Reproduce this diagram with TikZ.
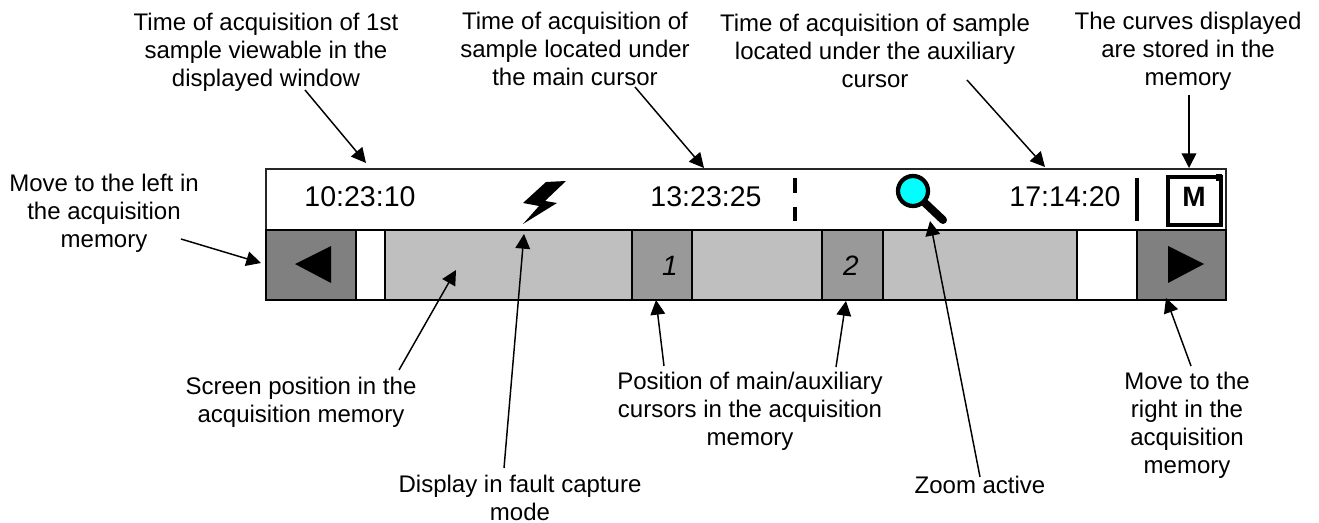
\documentclass[tikz,border=0pt]{standalone}
\usepackage{fontspec}
\setmainfont{Liberation Sans}
\usetikzlibrary{arrows.meta}
\definecolor{btn}{gray}{0.5}
\definecolor{cur}{gray}{0.6}
\definecolor{bar}{gray}{0.75}
\definecolor{lens}{rgb}{0,1,1}
\tikzset{
 x=0.75pt,y=-0.75pt,
 lab/.style={align=center,font=\fontsize{18pt}{21pt}\selectfont,inner sep=0pt},
 big/.style={font=\fontsize{21.4pt}{24pt}\selectfont,inner sep=0pt},
 num/.style={font=\fontsize{21pt}{24pt}\itshape\selectfont,inner sep=0pt},
 seg/.style={draw=black,line width=1.5pt,inner sep=0pt,outer sep=0pt,minimum height=52.5pt,anchor=north west},
 arr/.style={draw=black,line width=1.1pt,-{Triangle[length=11pt,width=11pt]}},
 tri/.style={fill=black,draw=none},
}
\begin{document}
\begin{tikzpicture}
\useasboundingbox (0,0) rectangle (1319,523);
% status bar
\path[fill=white,draw=black!85,line width=1.5pt] (266,169) rectangle (1226,230);
\node[big] (t1) at (360,197) {10:23:10};
\node[big] (t2) at (706,197) {13:23:25};
\node[big] (t3) at (1065,197) {17:14:20};
% fault bolt
\path[fill=black] (566,181) -- (546,182) -- (523,203) -- (539,206) -- (523,224) -- (557,203) -- (545,201) -- cycle;
% dashed cursor mark
\draw[line width=3pt] (795,178) -- (795,193);
\draw[line width=3pt] (795,207) -- (795,221);
% solid cursor mark
\draw[line width=3pt] (1137,178) -- (1137,221);
% magnifier
\draw[line width=6pt,line cap=round] (925,203) -- (943,220);
\draw[fill=lens,line width=3.2pt] (913,191) circle (15);
% memory box
\draw[line width=3pt] (1168,177) rectangle (1221,225);
\fill[black] (1216,174) rectangle (1222,181);
\node[font=\fontsize{21pt}{23pt}\bfseries\selectfont,inner sep=0pt] (mm) at (1194,197) {M};
% scroll bar
\node[seg,fill=btn,minimum width=67.5pt] (bl) at (266,230) {};
\node[seg,fill=white,minimum width=21.7pt] (wl) at (356,230) {};
\node[seg,fill=bar,minimum width=185.2pt] (g1) at (385,230) {};
\node[seg,fill=cur,minimum width=45pt] (c1) at (632,230) {};
\node[seg,fill=bar,minimum width=97.5pt] (g2) at (692,230) {};
\node[seg,fill=cur,minimum width=45.7pt] (c2) at (822,230) {};
\node[seg,fill=bar,minimum width=145.5pt] (g3) at (883,230) {};
\node[seg,fill=white,minimum width=45pt] (wr) at (1077,230) {};
\node[seg,fill=btn,minimum width=66.7pt] (br) at (1137,230) {};
\node[num] (n1) at (670,266) {1};
\node[num] (n2) at (851,266) {2};
\path[tri] (295,264) -- (331,246) -- (331,283) -- cycle;
\path[tri] (1204,264) -- (1168,246) -- (1168,283) -- cycle;
% labels
\node[lab] (a) at (266,52) {Time of acquisition of 1st\\sample viewable in the\\displayed window};
\node[lab] (b) at (575,49) {Time of acquisition of\\sample located under\\the main cursor};
\node[lab] (c) at (875,51) {Time of acquisition of sample\\located under the auxiliary\\cursor};
\node[lab] (d) at (1188,51) {The curves displayed\\are stored in the\\memory};
\node[lab] (e) at (104,213) {Move to the left in\\the acquisition\\memory};
\node[lab] (f) at (301,402) {Screen position in the\\acquisition memory};
\node[lab] (g) at (520,498) {Display in fault capture\\mode};
\node[lab] (h) at (750,411) {Position of main/auxiliary\\cursors in the acquisition\\memory};
\node[lab] (i) at (980,485) {Zoom active};
\node[lab] (j) at (1187,425) {Move to the\\right in the\\acquisition\\memory};
% connector ends
\coordinate (a1) at (305,90);   \coordinate (a2) at (366,163);
\coordinate (b1) at (635,87);   \coordinate (b2) at (704,168);
\coordinate (c1t) at (967,80);  \coordinate (c2t) at (1045,167);
\coordinate (d1) at (1189,95);  \coordinate (d2) at (1189,168);
\coordinate (e1) at (181,239);  \coordinate (e2) at (261,263);
\coordinate (f1) at (399,370);  \coordinate (f2) at (456,270);
\coordinate (g1t) at (504,468); \coordinate (g2t) at (524,234);
\coordinate (h1) at (664,366);  \coordinate (h2) at (656,300);
\coordinate (h3) at (836,367);  \coordinate (h4) at (846,301);
\coordinate (i1) at (980,477);  \coordinate (i2) at (930,221);
\coordinate (j1) at (1191,366); \coordinate (j2) at (1166,298);
\draw[arr] (a1) -- (a2);
\draw[arr] (b1) -- (b2);
\draw[arr] (c1t) -- (c2t);
\draw[arr] (d1) -- (d2);
\draw[arr] (e1) -- (e2);
\draw[arr] (f1) -- (f2);
\draw[arr] (g1t) -- (g2t);
\draw[arr] (h1) -- (h2);
\draw[arr] (h3) -- (h4);
\draw[arr] (i1) -- (i2);
\draw[arr] (j1) -- (j2);
\end{tikzpicture}
\end{document}
